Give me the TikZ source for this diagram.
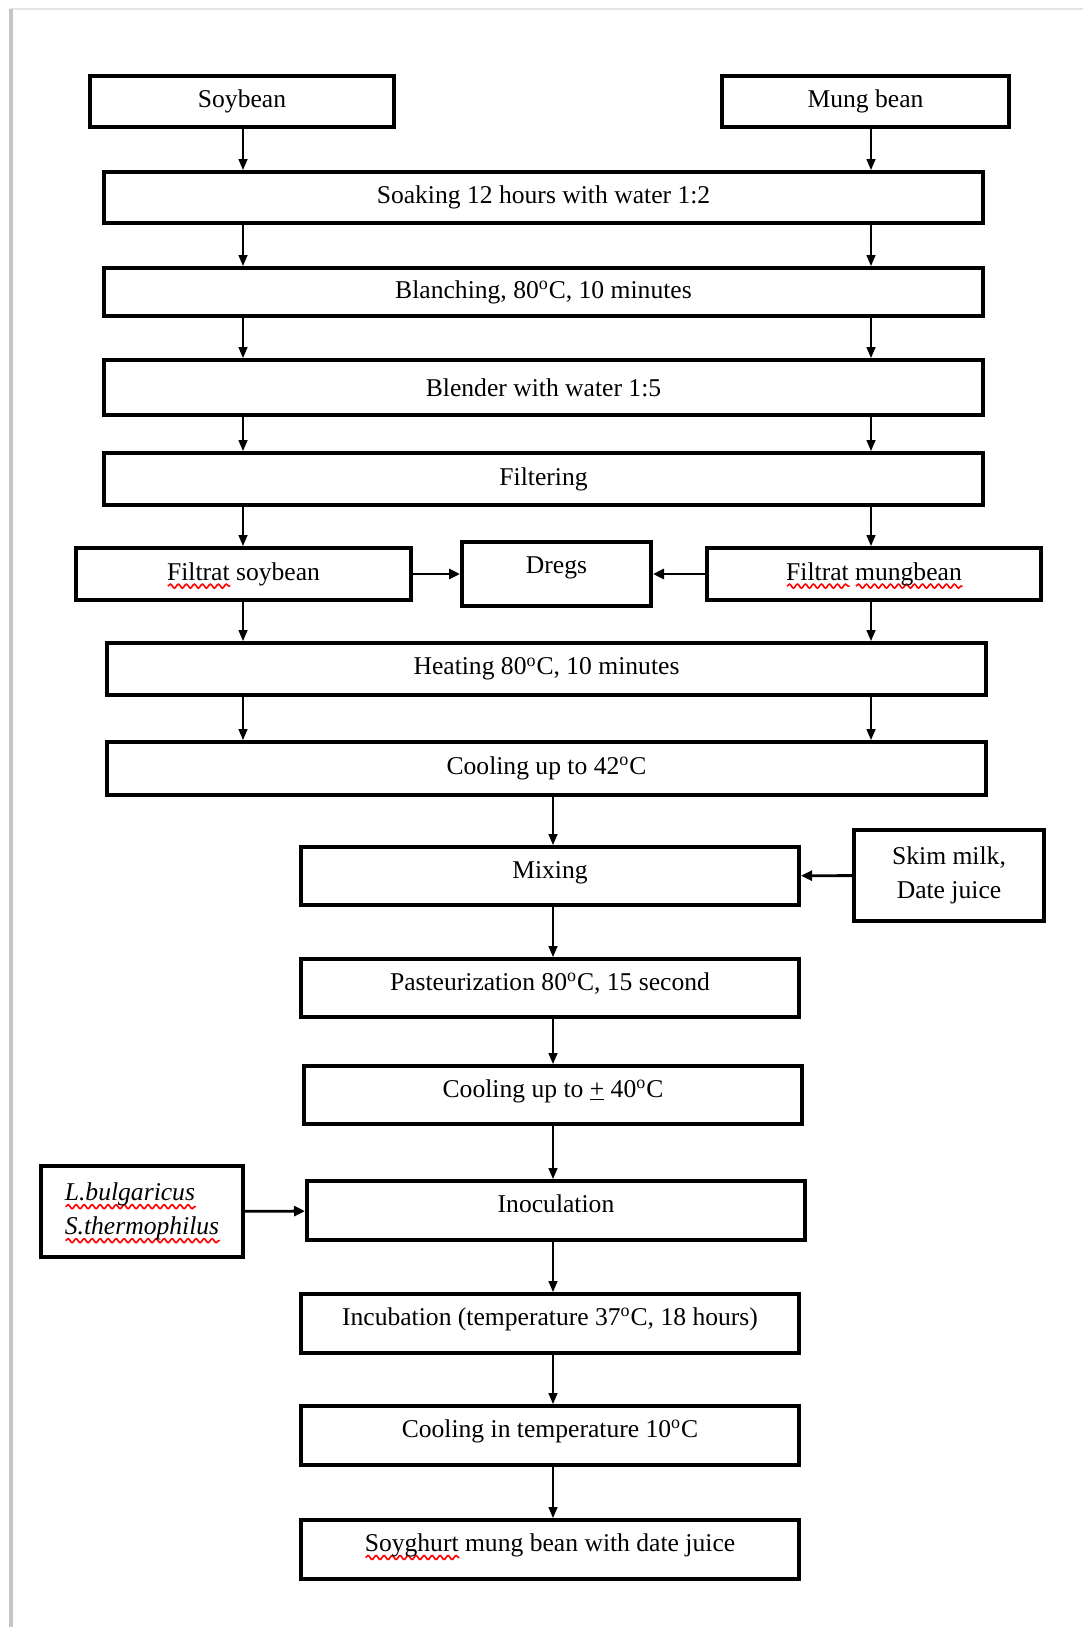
\documentclass[tikz,border=0pt]{standalone}
\usepackage{fontspec}
\setmainfont{Liberation Serif}
\usetikzlibrary{arrows.meta, decorations.pathmorphing}
% red wavy spell-check underline
\newsavebox\wavebox
\newlength\wavelen
\newcommand\redwave[1]{\sbox\wavebox{#1}\setlength\wavelen{\wd\wavebox}%
  \rlap{\smash{\tikz[baseline=0pt]\draw[red, line width=0.8pt, decorate,
    decoration={snake, amplitude=1pt, segment length=4pt}]
    (0pt,-3pt) -- (\the\wavelen,-3pt);}}\usebox\wavebox}
\newcommand\degC{\textsuperscript{o}C}
\begin{document}
\begin{tikzpicture}[x=0.5pt, y=-0.5pt,
    font=\fontsize{12.8}{17}\selectfont,
    stage/.style={draw, line width=2pt, inner sep=0pt, align=center},
    wide/.style={stage, minimum width=439.5pt, minimum height=26pt},
    mid/.style={stage, minimum width=249pt, minimum height=29pt, text height=9pt, text depth=7pt},
    arr/.style={line width=0.75pt, -{Triangle[length=5.5pt, width=4.5pt]}},
    side/.style={line width=1.4pt, -{Triangle[length=5.5pt, width=5pt]}}]
  \useasboundingbox (0,0) rectangle (1083,1627);
  % page edge
  \draw[gray!20, line width=1pt] (10,9) -- (1083,9);
  \draw[gray!45, line width=2pt] (11,9) -- (11,1627);
  % columns
  \coordinate (lx) at (243,0);
  \coordinate (rx) at (871,0);
  \coordinate (cx) at (553,0);
  % raw beans and common steps
  \node[stage, minimum width=152pt, minimum height=25.5pt] (soy) at (242,101.5) {Soybean};
  \node[stage, minimum width=143.5pt, minimum height=25.5pt] (mung) at (865.5,101.5) {Mung bean};
  \node[wide, minimum height=25.5pt] (soak) at (543.5,197.5) {Soaking 12 hours with water 1:2};
  \node[wide, minimum height=24pt] (blanch) at (543.5,292) {Blanching, 80\degC, 10 minutes};
  \node[wide, minimum height=27.5pt] (blend) at (543.5,387.5) {Blender with water 1:5};
  \node[wide] (filter) at (543.5,479) {Filtering};
  \node[stage, minimum width=167.5pt, minimum height=26pt] (fsoy) at (243.5,574) {\redwave{Filtrat} soybean};
  \node[stage, minimum width=94.5pt, minimum height=32pt, label={[yshift=3pt]center:Dregs}] (dregs) at (556.5,574) {};
  \node[stage, minimum width=167pt, minimum height=26pt] (fmung) at (874,574) {\redwave{Filtrat} \redwave{mungbean}};
  \node[wide] (heat) at (546.5,669) {Heating 80\degC, 10 minutes};
  \node[wide, minimum height=26.5pt] (cool42) at (546.5,768.5) {Cooling up to 42\degC};
  % yoghurt steps
  \node[mid] (mix) at (550,876) {Mixing};
  \node[stage, minimum width=95pt, minimum height=45.5pt] (skim) at (949,875.5) {Skim milk,\\Date juice};
  \node[mid] (past) at (550,988) {Pasteurization 80\degC, 15 second};
  \node[mid] (cool40) at (553,1095) {Cooling up to \underline{+} 40\degC};
  \node[stage, minimum width=101pt, minimum height=45.5pt, align=left] (lbul) at (142,1211.5) {\itshape\redwave{L.bulgaricus}\\\itshape\redwave{S.thermophilus}};
  \node[mid, minimum height=29.5pt] (inoc) at (556,1210.5) {Inoculation};
  \node[mid, minimum height=29.5pt] (incub) at (550,1323.5) {Incubation (temperature 37\degC, 18 hours)};
  \node[mid, minimum height=29.5pt] (cool10) at (550,1435.5) {Cooling in temperature 10\degC};
  \node[mid, minimum height=29.5pt] (final) at (550,1549.5) {\redwave{Soyghurt} mung bean with date juice};
  % two parallel lines
  \foreach \a/\b in {soy/soak, soak/blanch, blanch/blend, blend/filter, filter/fsoy, fsoy/heat, heat/cool42}
    \draw[arr] (\a.south -| lx) -- (\b.north -| lx);
  \foreach \a/\b in {mung/soak, soak/blanch, blanch/blend, blend/filter, filter/fmung, fmung/heat, heat/cool42}
    \draw[arr] (\a.south -| rx) -- (\b.north -| rx);
  \foreach \a/\b in {cool42/mix, mix/past, past/cool40, cool40/inoc, inoc/incub, incub/cool10, cool10/final}
    \draw[arr] (\a.south -| cx) -- (\b.north -| cx);
  % side inputs
  \draw[side] (fsoy) -- (dregs);
  \draw[side] (fmung) -- (dregs);
  \draw[side] (skim) -- (mix);
  \draw[side] (lbul) -- (inoc);
\end{tikzpicture}
\end{document}
